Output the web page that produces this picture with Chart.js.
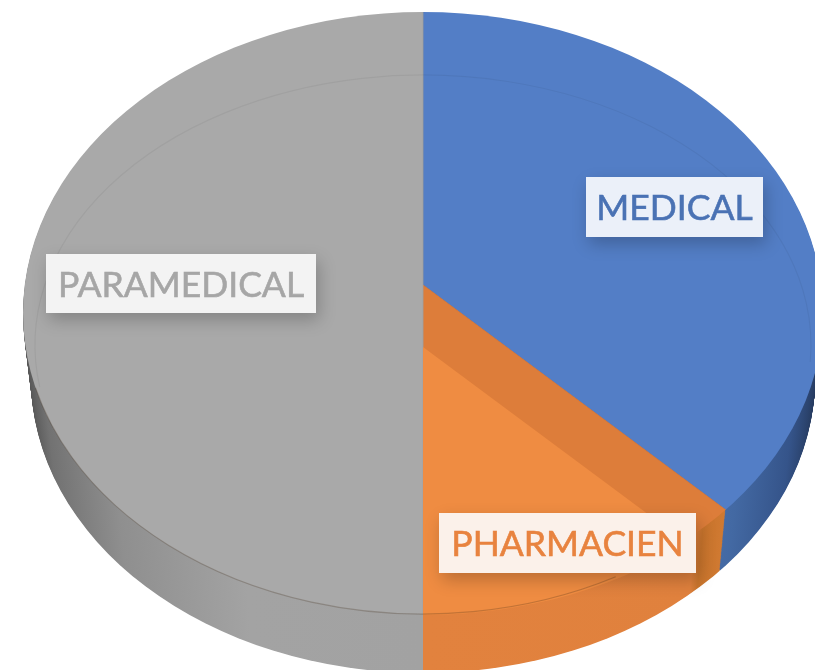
<!DOCTYPE html>
<html>
<head>
<meta charset="utf-8">
<title>Pie</title>
<style>
  html, body { margin: 0; padding: 0; background: #fff; overflow: hidden; }
  canvas { display: block; filter: blur(0.5px); }
</style>
<script src="https://cdn.jsdelivr.net/npm/chart.js@4/dist/chart.umd.min.js"></script>
</head>
<body>
<canvas id="pieChart" width="815" height="670"></canvas>
<script>
const categories = ['MEDICAL', 'PHARMACIEN', 'PARAMEDICAL'];
const shares = [37.4, 12.6, 50];
const faceColors = ['#537ec6', '#dd7d3a', '#a9a9a9'];
const edgeColors = ['#4a72b6', '#d9793a', '#a0a0a0'];
const textColors = ['#4a72b4', '#e8833f', '#a6a6a6'];
const boxColors = ['#ebf0f9', '#fbf1ea', '#f3f3f3'];
const innerOrange = '#ef8c42';

// perspective of the disc, the apex sits above the middle of the ellipse
const centerX = 423, apexY = 285;
const faceCY = 313, faceRX = 400, faceRY = 301;
const innerCY = 345, innerRX = 388, innerRY = 270;
const depth = 65;
const orangeDrop = 62;

// label boxes: left, top, right, bottom
const labelBoxes = [[586, 177, 763, 237], [439, 513, 696, 573], [46, 254, 316, 313]];

function project(ctx, arc, dy, sx, sy) {
  ctx.translate(centerX, apexY + dy);
  ctx.scale(sx, sy);
  ctx.translate(-arc.x, -arc.y);
}

function paint(ctx, arc, fill) {
  const saved = arc.options;
  arc.options = {...saved, backgroundColor: fill, borderWidth: 0};
  arc.draw(ctx);
  arc.options = saved;
}

function wallGradient(ctx, arc, stops) {
  const g = ctx.createLinearGradient(arc.x - 400, 0, arc.x + 400, 0);
  stops.forEach(s => g.addColorStop(s[0], s[1]));
  return g;
}

const disc3d = {
  id: 'disc3d',
  beforeDatasetsDraw(chart) {
    const ctx = chart.ctx;
    const arcs = chart.getDatasetMeta(0).data;
    const walls = [
      wallGradient(ctx, arcs[0], [[0.84, '#4a70ac'], [0.89, '#4369a3'], [0.96, '#35548a'], [1, '#25395c']]),
      wallGradient(ctx, arcs[1], [[0.5, '#e2823e'], [0.84, '#e0813d'], [0.85, '#c8742c'], [0.885, '#d27b33']]),
      wallGradient(ctx, arcs[2], [[0, '#555555'], [0.03, '#727272'], [0.12, '#8f8f8f'], [0.28, '#a3a3a3'], [0.5, '#a2a2a2']])
    ];
    for (let d = depth; d > 0; d--) {
      const t = d / depth;
      const rx = faceRX - 8 * t, ry = faceRY - 6 * t;
      ctx.save();
      ctx.beginPath();
      ctx.ellipse(centerX, faceCY + d, rx, ry, 0, 0, Math.PI * 2);
      ctx.clip();
      project(ctx, arcs[0], d, rx / faceRX, ry / faceRX);
      arcs.forEach((arc, i) => paint(ctx, arc, walls[i]));
      ctx.restore();
    }
    // the library then draws the slices inside the top face
    ctx.save();
    ctx.beginPath();
    ctx.ellipse(centerX, faceCY, faceRX, faceRY, 0, 0, Math.PI * 2);
    ctx.clip();
    project(ctx, arcs[0], 0, 1, faceRY / faceRX);
  },
  afterDatasetsDraw(chart) {
    const ctx = chart.ctx;
    const arcs = chart.getDatasetMeta(0).data;
    ctx.restore();

    // lighter top of the orange slice
    ctx.save();
    ctx.beginPath();
    ctx.ellipse(centerX, innerCY, innerRX, innerRY, 0, 0, Math.PI * 2);
    ctx.clip();
    project(ctx, arcs[1], orangeDrop, 1, faceRY / faceRX);
    paint(ctx, arcs[1], innerOrange);
    ctx.restore();

    // faint bevel line
    ctx.strokeStyle = 'rgba(0,0,0,0.05)';
    ctx.lineWidth = 1.2;
    ctx.beginPath();
    ctx.ellipse(centerX, innerCY, innerRX, innerRY, 0, Math.PI * 0.95, Math.PI * 2.02);
    ctx.stroke();

    // rim of the face over the wall
    ctx.strokeStyle = 'rgba(60,40,20,0.25)';
    ctx.lineWidth = 1.2;
    ctx.beginPath();
    ctx.ellipse(centerX, faceCY, faceRX, faceRY, 0, Math.PI * 0.34, Math.PI * 0.92);
    ctx.stroke();
  },
  afterDraw(chart) {
    const ctx = chart.ctx;
    categories.forEach((name, i) => {
      const [l, t, r, b] = labelBoxes[i];
      ctx.save();
      ctx.shadowColor = 'rgba(0,0,0,0.22)';
      ctx.shadowBlur = 16;
      ctx.shadowOffsetX = 3;
      ctx.shadowOffsetY = 7;
      ctx.fillStyle = boxColors[i];
      ctx.fillRect(l, t, r - l, b - t);
      ctx.restore();
      ctx.fillStyle = textColors[i];
      ctx.strokeStyle = textColors[i];
      ctx.lineWidth = 0.6;
      ctx.font = '35.5px Lato';
      ctx.textAlign = 'center';
      ctx.textBaseline = 'middle';
      const y = (t + b) / 2 + 2;
      ctx.fillText(name, (l + r) / 2, y);
      ctx.strokeText(name, (l + r) / 2, y);
    });
  }
};

new Chart(document.getElementById('pieChart'), {
  type: 'pie',
  data: {
    labels: categories,
    datasets: [{
      data: shares,
      backgroundColor: faceColors,
      borderColor: edgeColors,
      borderWidth: 1,
      clip: false
    }]
  },
  options: {
    responsive: false,
    animation: false,
    events: [],
    radius: 480,
    layout: { padding: 0 },
    plugins: {
      legend: { display: false },
      tooltip: { enabled: false },
      title: { display: false }
    }
  },
  plugins: [disc3d]
});
</script>
</body>
</html>
